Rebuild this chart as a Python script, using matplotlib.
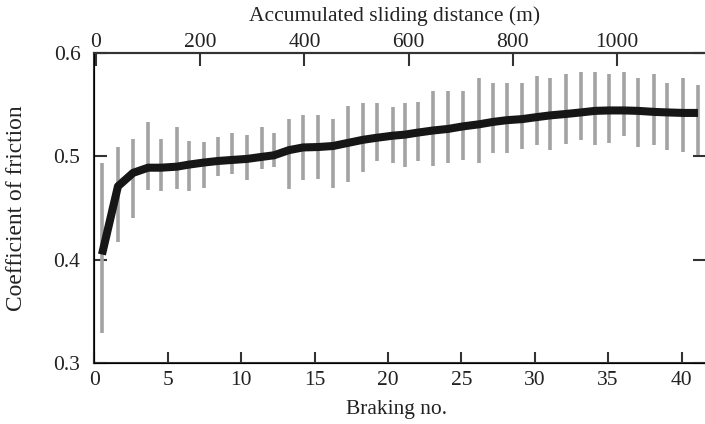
import numpy as np
import matplotlib
matplotlib.use("Agg")
import matplotlib.pyplot as plt

plt.rcParams['font.family'] = ['Liberation Serif', 'DejaVu Serif']

# braking positions of the range bars
braking = [0.52, 1.61, 2.64, 3.66, 4.54, 5.63, 6.45, 7.47, 8.42, 9.38,
           10.40, 11.42, 12.24, 13.26, 14.22, 15.24, 16.26, 17.28, 18.30, 19.26,
           20.35, 21.16, 22.05, 23.07, 24.09, 25.12, 26.21, 27.16, 28.11, 29.13,
           30.16, 31.04, 32.13, 33.15, 34.11, 35.06, 36.08, 37.04, 38.13, 39.01,
           40.10, 41.12]

# max / min friction coefficient of each braking
mu_high = [0.494, 0.509, 0.517, 0.533, 0.517, 0.528, 0.515, 0.514, 0.519, 0.523,
           0.521, 0.528, 0.523, 0.536, 0.540, 0.540, 0.536, 0.549, 0.552, 0.552,
           0.548, 0.552, 0.553, 0.563, 0.563, 0.563, 0.576, 0.571, 0.571, 0.571,
           0.578, 0.576, 0.580, 0.582, 0.582, 0.580, 0.582, 0.576, 0.580, 0.571,
           0.576, 0.569]
mu_low = [0.329, 0.417, 0.440, 0.467, 0.466, 0.468, 0.466, 0.469, 0.481, 0.483,
          0.477, 0.488, 0.490, 0.468, 0.477, 0.478, 0.469, 0.475, 0.485, 0.495,
          0.494, 0.490, 0.495, 0.491, 0.494, 0.496, 0.494, 0.503, 0.503, 0.507,
          0.511, 0.506, 0.512, 0.516, 0.511, 0.513, 0.520, 0.509, 0.511, 0.506,
          0.504, 0.501]
# average friction coefficient
mu_mean = [0.405, 0.471, 0.484, 0.489, 0.489, 0.490, 0.492, 0.494, 0.4955, 0.4965,
           0.4975, 0.4995, 0.501, 0.506, 0.5086, 0.509, 0.510, 0.513, 0.516, 0.518,
           0.520, 0.521, 0.523, 0.525, 0.5265, 0.529, 0.531, 0.5333, 0.535, 0.536,
           0.538, 0.5396, 0.541, 0.5425, 0.544, 0.5444, 0.5444, 0.544, 0.543, 0.5425,
           0.542, 0.542]

bottom_ticks = [0, 5, 10, 15, 20, 25, 30, 35, 40]
top_ticks = [0, 200, 400, 600, 800, 1000]
y_ticks = [0.3, 0.4, 0.5, 0.6]

txt = '#222222'
fs = 15.5

fig = plt.figure(figsize=(7.05, 4.24), dpi=100)
ax = fig.add_axes([0.1338, 0.1439, 0.8662, 0.7311])

ax.vlines(braking, mu_low, mu_high, colors='#a3a3a3', linewidth=2.6, zorder=2)
ax.plot(braking, mu_mean, color='#161616', linewidth=5.8,
        solid_joinstyle='round', solid_capstyle='butt', zorder=3)

ax.set_xlim(0, 41.6)
ax.set_ylim(0.3, 0.6)
ax.set_xticks(bottom_ticks)
ax.set_yticks(y_ticks)
ax.set_yticklabels(['0.3', '0.4', '0.5', '0.6'])

for s in ['left', 'bottom', 'top']:
    ax.spines[s].set_linewidth(1.5)
    ax.spines[s].set_color('#333333')
ax.spines['right'].set_visible(False)

ax.tick_params(axis='x', direction='in', length=8, width=1.5, color='#333333',
               labelsize=fs, labelcolor=txt, pad=6)
ax.tick_params(axis='y', direction='in', length=9, width=1.5, color='#333333',
               labelsize=fs, labelcolor=txt, pad=10, right=True)

ax.set_xlabel('Braking no.', fontsize=fs, color=txt)
ax.xaxis.set_label_coords(0.495, -0.15)
ax.xaxis.label.set_va('center')
ax.set_ylabel('Coefficient of friction', fontsize=16.8, color=txt)
ax.yaxis.set_label_coords(-0.128, 0.5)
ax.yaxis.label.set_va('center')

ax2 = ax.twiny()
ax2.set_xlim(-3.3, 1169)
ax2.set_xticks(top_ticks)
ax2.tick_params(axis='x', direction='in', length=9, width=1.5, color='#333333',
                labelsize=fs, labelcolor=txt, pad=1)
ax2.spines['right'].set_visible(False)
ax2.spines['top'].set_linewidth(1.5)
ax2.spines['top'].set_color('#333333')
ax2.set_xlabel('Accumulated sliding distance (m)', fontsize=fs, color=txt)
ax2.xaxis.set_label_coords(0.492, 1.12)
ax2.xaxis.label.set_va('center')

fig.savefig('out.png', dpi=100)
